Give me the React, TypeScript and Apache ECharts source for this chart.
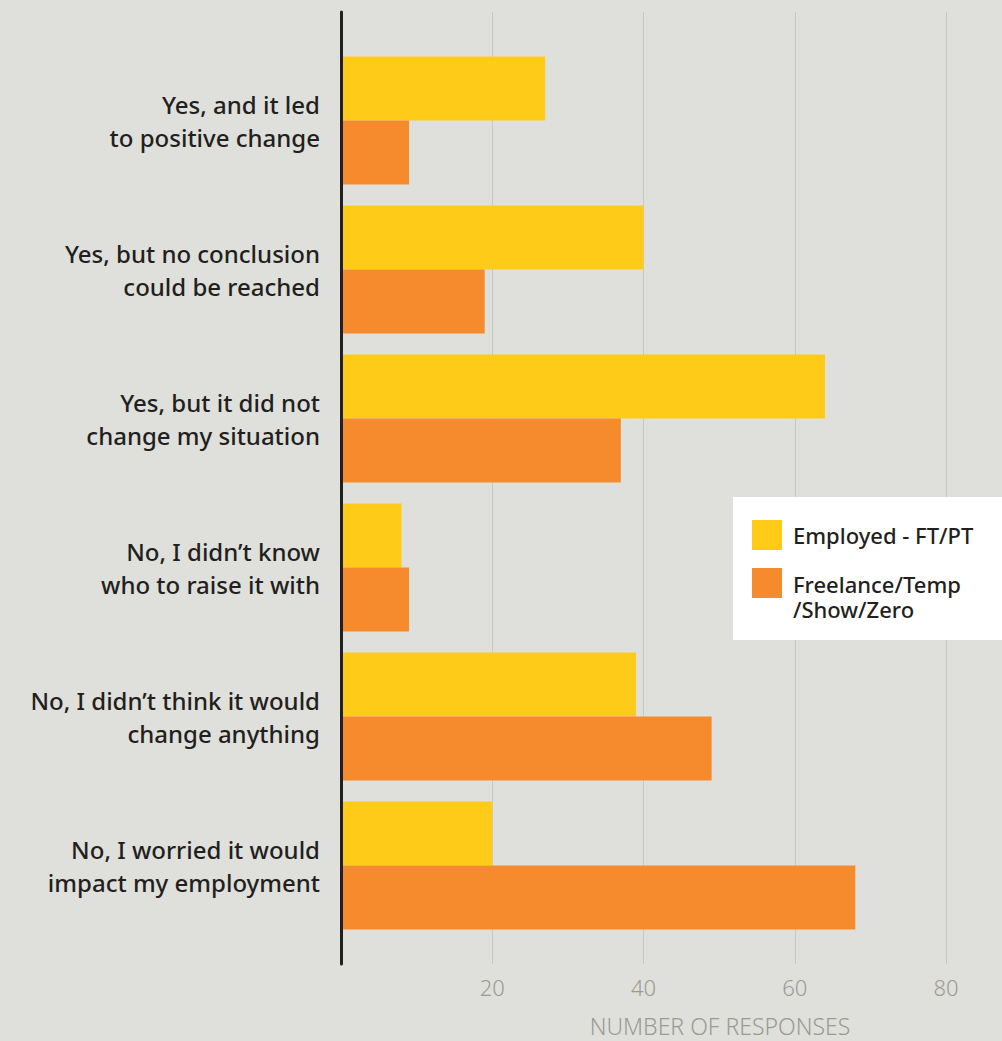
import React, { useEffect, useRef } from "react";
import * as echarts from "echarts";

const categories = [
  "Yes, and it led\nto positive change",
  "Yes, but no conclusion\ncould be reached",
  "Yes, but it did not\nchange my situation",
  "No, I didn\u2019t know\nwho to raise it with",
  "No, I didn\u2019t think it would\nchange anything",
  "No, I worried it would\nimpact my employment",
];
const employed = [27, 40, 64, 8, 39, 20];
const freelance = [9, 19, 37, 9, 49, 68];
const seriesNames = ["Employed - FT/PT", "Freelance/Temp\n/Show/Zero"];
const seriesColors = ["#fecb18", "#f68b2d"];
const xTicks = [20, 40, 60, 80];
const axisTitle = "NUMBER OF RESPONSES";

const BG = "#dfe0db";
const FONT = "'Noto Sans', Lato, sans-serif";

export default function App() {
  const ref = useRef<HTMLDivElement>(null);
  useEffect(() => {
    document.body.style.margin = "0";
    document.body.style.background = BG;
    const chart = echarts.init(ref.current!, null, { renderer: "svg" });
    const xMax = 87.4;
    chart.setOption({
      animation: false,
      backgroundColor: BG,
      textStyle: { fontFamily: FONT },
      grid: [
        { left: 341, top: 12, right: 0, height: 952, containLabel: false },
        { left: 341, top: 46, right: 0, height: 894, containLabel: false },
      ],
      xAxis: [
        {
          gridIndex: 0,
          type: "value",
          min: 0,
          max: xMax,
          interval: 20,
          axisLine: { show: false },
          axisTick: { show: false },
          splitLine: {
            show: true,
            showMinLine: false,
            showMaxLine: false,
            lineStyle: { color: "#c9c9c4", width: 1 },
          },
          axisLabel: {
            color: "#9a9a94",
            fontSize: 22,
            fontFamily: FONT,
            fontWeight: 300,
            margin: 12,
            showMinLabel: false,
            showMaxLabel: false,
            formatter: (v: number) => (xTicks.includes(v) ? String(v) : ""),
          },
        },
        {
          gridIndex: 1,
          type: "value",
          min: 0,
          max: xMax,
          show: false,
        },
      ],
      yAxis: [
        {
          gridIndex: 0,
          type: "category",
          data: categories,
          z: 10,
          axisLine: { show: true, lineStyle: { color: "#231f20", width: 3 } },
          axisTick: { show: false },
          axisLabel: { show: false },
          splitLine: { show: false },
        },
        {
          gridIndex: 1,
          type: "category",
          data: categories,
          inverse: true,
          axisLine: { show: false },
          axisTick: { show: false },
          splitLine: { show: false },
          axisLabel: {
            color: "#231f20",
            fontSize: 24,
            fontFamily: FONT,
            fontWeight: 500,
            lineHeight: 33,
            margin: 21,
            align: "right",
            padding: [4, 0, 0, 0],
          },
        },
      ],
      graphic: [
        {
          type: "rect",
          z: 15,
          shape: { x: 733, y: 497, width: 269, height: 143 },
          style: { fill: "#ffffff" },
        },
        {
          type: "rect",
          z: 16,
          shape: { x: 752, y: 520, width: 30, height: 30 },
          style: { fill: seriesColors[0] },
        },
        {
          type: "text",
          z: 16,
          x: 793,
          y: 535,
          style: {
            text: seriesNames[0],
            fill: "#231f20",
            fontSize: 22,
            fontFamily: FONT,
            fontWeight: 500,
            verticalAlign: "middle",
          },
        },
        {
          type: "rect",
          z: 16,
          shape: { x: 752, y: 568, width: 30, height: 30 },
          style: { fill: seriesColors[1] },
        },
        {
          type: "text",
          z: 16,
          x: 793,
          y: 571,
          style: {
            text: seriesNames[1],
            fill: "#231f20",
            fontSize: 22,
            fontFamily: FONT,
            fontWeight: 500,
            lineHeight: 25,
            verticalAlign: "top",
          },
        },
        {
          type: "text",
          z: 15,
          x: 720,
          y: 1026,
          style: {
            text: axisTitle,
            fill: "#9a9a94",
            fontSize: 23,
            fontFamily: FONT,
            fontWeight: 300,
            align: "center",
            verticalAlign: "middle",
          },
        },
      ],
      series: [
        {
          name: seriesNames[0],
          type: "bar",
          xAxisIndex: 1,
          yAxisIndex: 1,
          data: employed,
          barWidth: 64,
          barGap: "0%",
          itemStyle: { color: seriesColors[0] },
        },
        {
          name: seriesNames[1],
          type: "bar",
          xAxisIndex: 1,
          yAxisIndex: 1,
          data: freelance,
          barWidth: 64,
          barGap: "0%",
          itemStyle: { color: seriesColors[1] },
        },
      ],
    });
    return () => chart.dispose();
  }, []);
  return (
    <div
      ref={ref}
      style={{ position: "absolute", left: 0, top: 0, width: 1002, height: 1041, background: BG }}
    />
  );
}
